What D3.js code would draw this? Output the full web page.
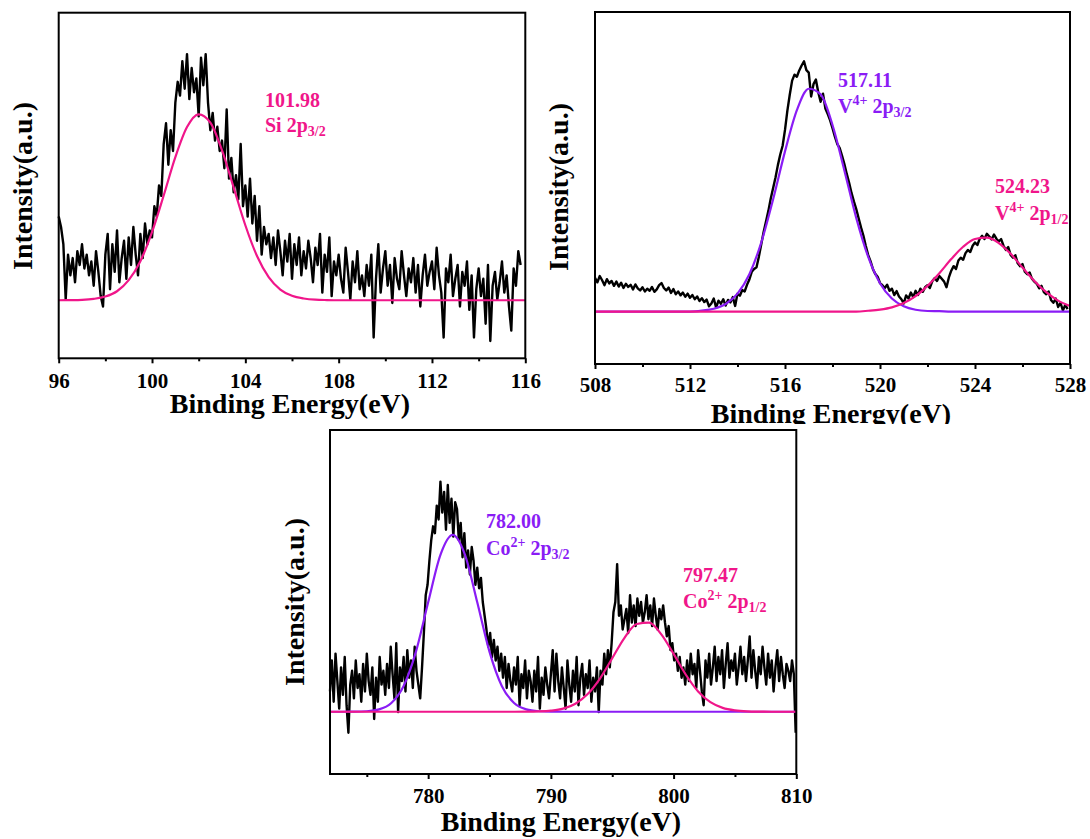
<!DOCTYPE html>
<html>
<head>
<meta charset="utf-8">
<script src="https://cdnjs.cloudflare.com/ajax/libs/d3/7.8.5/d3.min.js"></script>
<style>
  body { margin: 0; background: #fff; }
  svg text { font-family: "Liberation Serif", "Times New Roman", serif; font-weight: bold; }
</style>
</head>
<body>
<svg id="fig" width="1090" height="839"></svg>
<script>
// intensities are arbitrary units (0-100 = plot height)

// Si 2p, raw spectrum, 96.0 eV in 0.1 eV steps
var siStart = 96, siStep = 0.1;
var siCounts = [
  41, 38, 33, 17, 30, 24, 29, 22, 31, 27,
  33, 26, 30, 24, 28, 21, 31, 25, 18, 15,
  30, 36, 20, 33, 25, 37, 22, 29, 34, 23,
  35, 27, 38, 30, 24, 36, 29, 39, 33, 37,
  35, 44, 41, 50, 47, 62, 68, 56, 66, 60,
  74, 80, 76, 86, 78, 88, 75, 84, 77, 81,
  70, 87, 79, 88, 74, 66, 71, 63, 67, 60,
  63, 55, 72, 52, 58, 48, 53, 46, 62, 44,
  50, 41, 52, 39, 47, 34, 44, 30, 38, 33,
  36, 29, 35, 27, 37, 31, 24, 34, 28, 36,
  23, 33, 27, 35, 24, 31, 26, 34, 29, 22,
  32, 27, 36, 19, 30, 25, 35, 18, 28, 24,
  30, 23, 19, 32, 25, 17, 28, 22, 31, 20,
  24, 18, 27, 21, 30, 6, 23, 33, 19, 26,
  31, 21, 27, 16, 29, 23, 20, 31, 24, 18,
  26, 22, 29, 19, 27, 15, 24, 30, 21, 25,
  28, 20, 32, 24, 19, 6, 26, 22, 30, 18,
  23, 27, 15, 25, 21, 28, 14, 24, 6, 20,
  26, 18, 23, 10, 27, 5, 21, 25, 17, 22,
  28, 19, 24, 15, 8, 26, 21, 31, 27
];
// Si 2p3/2 fitted component, 0.5 eV steps
var siFit = [
  16.8, 16.83, 16.92, 17.2, 17.86, 19.4, 22.6, 28.1, 36.5, 47.1,
  58.2, 66.9, 70.6, 68.2, 60.2, 49.4, 38.5, 29.6, 23.5, 19.9,
  18.1, 17.3, 16.95, 16.85, 16.8, 16.8, 16.8, 16.8, 16.8, 16.8,
  16.8, 16.8, 16.8, 16.8, 16.8, 16.8, 16.8, 16.8, 16.8, 16.8, 16.8
];
var siTicks = [96, 100, 104, 108, 112, 116];
var siMinor = [98, 102, 106, 110, 114];

// V 2p, 508.0 eV in 0.1 eV steps
var vStart = 508, vStep = 0.1;
var vCounts = [
  24.5, 23.2, 25.0, 23.8, 22.4, 24.1, 22.9, 23.6, 22.2, 23.4,
  22.0, 23.1, 21.6, 22.8, 21.9, 22.5, 21.2, 22.6, 21.5, 20.9,
  21.8, 20.6, 21.4, 20.8, 21.9, 20.5, 21.2, 22.4, 23.0, 21.6,
  20.9, 21.7, 20.2, 21.3, 19.8, 20.6, 19.5, 20.3, 19.1, 20.0,
  18.8, 19.6, 18.4, 19.2, 17.9, 18.7, 17.6, 18.3, 16.4, 17.2,
  18.6, 16.0, 18.0, 17.1, 18.4, 16.6, 18.2, 17.5, 19.0, 16.5,
  20.0, 19.4, 21.0, 20.6, 22.5, 24.0, 26.2, 27.0, 27.5, 30.5,
  34.0, 37.5, 40.5, 43.5, 47.0, 50.0, 53.0, 56.5, 59.5, 62.0,
  66.5, 72.0, 76.5, 80.5, 82.2, 81.6, 83.4, 84.8, 86.0, 83.5,
  82.8, 76.0, 79.5, 80.8, 77.2, 74.5, 76.8, 72.6, 71.0, 69.2,
  67.0, 64.6, 62.5, 61.4, 59.2, 56.8, 54.0, 51.5, 48.6, 46.2,
  44.0, 41.4, 38.8, 36.5, 33.6, 31.0, 29.2, 27.0, 25.6, 24.8,
  23.0, 22.4, 21.6, 22.5, 20.8, 21.4, 19.6, 20.7, 19.2, 18.4,
  17.2, 19.5, 18.6, 20.3, 19.0, 20.8, 19.6, 21.4, 20.5, 21.8,
  22.4, 21.6, 23.5, 24.4, 23.6, 25.0, 24.2, 23.4, 21.8, 24.6,
  26.5, 27.8, 27.0, 29.4, 30.2, 29.6, 31.5, 32.4, 31.8, 33.6,
  34.5, 33.8, 35.6, 36.4, 35.5, 37.0, 36.2, 35.4, 36.8, 35.6,
  34.8, 35.5, 33.6, 32.4, 33.2, 31.0, 30.2, 30.9, 28.6, 27.8,
  28.4, 26.2, 25.5, 26.0, 24.2, 23.4, 22.8, 21.5, 22.2, 20.4,
  19.8, 20.6, 18.2, 17.4, 18.6, 16.2, 17.4, 15.2, 16.8, 15.6
];
// V4+ components, 0.5 eV steps from 508
var v32Fit = [
  14.9, 14.9, 14.9, 14.9, 14.9, 14.9, 14.9, 14.9, 14.9, 15.16,
  15.7, 17.04, 20.0, 25.5, 34.5, 46.8, 60.4, 72.1, 78.2, 76.6,
  67.9, 55.0, 41.5, 30.5, 22.96, 18.6, 16.4, 15.4, 15.06, 15.0,
  14.9, 14.9, 14.9, 14.9, 14.9, 14.9, 14.9, 14.9, 14.9, 14.9, 14.9
];
var v12Fit = [
  14.9, 14.9, 14.9, 14.9, 14.9, 14.9, 14.9, 14.9, 14.9, 14.9,
  14.9, 14.9, 14.9, 14.9, 14.9, 14.9, 14.9, 14.9, 14.9, 14.9,
  14.9, 14.9, 14.9, 15.13, 15.46, 16.1, 17.35, 19.3, 22.2, 25.8,
  29.8, 33.3, 35.5, 35.9, 34.35, 31.3, 27.4, 23.6, 20.4, 18.0, 16.5
];
var vTicks = [508, 512, 516, 520, 524, 528];
var vMinor = [510, 514, 518, 522, 526];

// Co 2p, 772.0 eV in 0.15 eV steps
var coStart = 772, coStep = 0.15;
var coCounts = [
  24, 33, 21, 35, 27, 19, 31, 23, 34, 20,
  12, 26, 30, 22, 33, 25, 29, 21, 32, 24,
  35, 27, 23, 31, 16, 28, 21, 34, 26, 30,
  23, 32, 25, 37, 29, 22, 38, 18, 31, 27,
  34, 24, 36, 28, 33, 25, 37, 30, 26, 22,
  31, 41, 52, 55, 62, 68, 72, 70, 78, 74,
  85, 76, 82, 71, 84, 73, 80, 69, 79, 77,
  68, 73, 63, 70, 60, 65, 58, 66, 62, 55,
  60, 54, 57, 50, 46, 42, 37, 41, 34, 39,
  33, 37, 30, 35, 28, 34, 25, 32, 27, 24,
  31, 26, 34, 20, 29, 25, 33, 22, 30, 27,
  21, 30, 24, 34, 19, 28, 23, 31, 26, 22,
  29, 36, 24, 35, 27, 22, 31, 25, 19, 33,
  26, 21, 30, 24, 34, 20, 28, 32, 23, 29,
  25, 33, 21, 28, 24, 31, 18, 30, 26, 35,
  29, 36, 31, 38, 47, 50, 61, 46, 49, 42,
  45, 48, 41, 52, 44, 49, 43, 51, 46, 50,
  44, 47, 52, 45, 49, 43, 51, 46, 42, 48,
  45, 49, 44, 40, 43, 36, 38, 33, 35, 30,
  34, 28, 31, 26, 33, 27, 35, 29, 32, 25,
  36, 30, 24, 20, 33, 28, 35, 26, 31, 37,
  27, 34, 29, 36, 25, 32, 38, 28, 33, 30,
  35, 26, 31, 37, 29, 34, 27, 33, 40, 28,
  36, 30, 25, 34, 29, 37, 31, 26, 35, 28,
  33, 24, 31, 36, 27, 34, 29, 25, 32, 30,
  27, 33, 29, 12
];
// Co2+ components, 1 eV steps from 772
var co32Fit = [
  18.1, 18.1, 18.12, 18.24, 18.78, 20.64, 25.6, 35.5, 49.9, 63.7,
  69.5, 63.7, 49.9, 35.5, 25.6, 20.64, 18.78, 18.24, 18.12, 18.1,
  18.1, 18.1, 18.1, 18.1, 18.1, 18.1, 18.1, 18.1, 18.1, 18.1,
  18.1, 18.1, 18.1, 18.1, 18.1, 18.1, 18.1, 18.1, 18.1
];
var co12Fit = [
  18.1, 18.1, 18.1, 18.1, 18.1, 18.1, 18.1, 18.1, 18.1, 18.1,
  18.1, 18.1, 18.1, 18.1, 18.1, 18.1, 18.12, 18.19, 18.41, 19.0,
  20.44, 23.24, 27.75, 33.66, 39.6, 43.6, 43.98, 40.6, 34.9, 28.85,
  24.0, 20.87, 19.22, 18.49, 18.21, 18.13, 18.1, 18.1, 18.1
];
var coTicks = [780, 790, 800, 810];
var coMinor = [775, 785, 795, 805];

var PINK = "#F0168A",
    PURPLE = "#8A1CF5";

var svg = d3.select("#fig");
svg.append("rect").attr("width", 1090).attr("height", 839).attr("fill", "#fff");

svg.append("clipPath").attr("id", "cutTitle")
  .append("rect").attr("x", 0).attr("y", 0).attr("width", 1090).attr("height", 424);

function series(start, step, vals) {
    return vals.map(function (v, i) { return [start + i * step, v]; });
}

function richText(g, x, y, color, parts) {
    var t = g.append("text").attr("x", x).attr("y", y).attr("fill", color)
        .style("font-size", "20px");
    var shift = 0;
    parts.forEach(function (p) {
        var target = p[1] == "sup" ? -8 : (p[1] == "sub" ? 4 : 0);
        t.append("tspan")
            .attr("dy", target - shift)
            .style("font-size", p[1] ? "14px" : "20px")
            .text(p[0]);
        shift = target;
    });
}

function drawPanel(p) {
    var g = svg.append("g");
    var x = d3.scaleLinear().domain(p.domain).range([p.left, p.right]);
    var y = d3.scaleLinear().domain([0, 100]).range([p.bottom, p.top]);
    var line = d3.line()
        .x(function (d) { return x(d[0]); })
        .y(function (d) { return y(d[1]); });
    var smooth = d3.line()
        .x(function (d) { return x(d[0]); })
        .y(function (d) { return y(d[1]); })
        .curve(d3.curveMonotoneX);

    g.append("path")
        .datum(series(p.start, p.step, p.counts))
        .attr("d", line)
        .attr("fill", "none")
        .attr("stroke", "#000")
        .attr("stroke-width", 2.4)
        .attr("stroke-linejoin", "round");

    p.fits.forEach(function (f) {
        g.append("path")
            .datum(series(p.domain[0], f.step, f.vals))
            .attr("d", smooth)
            .attr("fill", "none")
            .attr("stroke", f.color)
            .attr("stroke-width", 2.2);
    });

    g.append("rect")
        .attr("x", p.left).attr("y", p.top)
        .attr("width", p.right - p.left).attr("height", p.bottom - p.top)
        .attr("fill", "none").attr("stroke", "#000").attr("stroke-width", 2);

    var minor = d3.axisBottom(x).tickValues(p.minor).tickSize(3).tickFormat("");
    var major = d3.axisBottom(x).tickValues(p.ticks).tickSize(5)
        .tickPadding(p.pad).tickFormat(d3.format("d"));
    [minor, major].forEach(function (ax) {
        var a = g.append("g").attr("transform", "translate(0," + p.bottom + ")").call(ax);
        a.select(".domain").remove();
        a.selectAll("line").attr("stroke", "#000").attr("stroke-width", 2);
        a.selectAll("text")
            .attr("fill", "#000")
            .style("font-size", "21px")
            .style("font-family", "'Liberation Serif', 'Times New Roman', serif")
            .style("font-weight", "bold");
    });

    var xt = g.append("text")
        .attr("x", p.xTitle[0]).attr("y", p.xTitle[1])
        .attr("text-anchor", "middle")
        .style("font-size", "28px")
        .text("Binding Energy(eV)");
    if (p.clipTitle) xt.attr("clip-path", "url(#cutTitle)");

    g.append("text")
        .attr("transform", "translate(" + p.yTitle[0] + "," + p.yTitle[1] + ") rotate(-90)")
        .attr("text-anchor", "middle")
        .style("font-size", "28px")
        .text("Intensity(a.u.)");

    p.labels.forEach(function (l) {
        richText(g, l.x, l.y, l.color, l.parts);
    });
}

drawPanel({
    domain: [96, 116], left: 58.7, right: 525.3, top: 12.7, bottom: 358.3,
    start: siStart, step: siStep, counts: siCounts,
    fits: [{ step: 0.5, vals: siFit, color: PINK }],
    ticks: siTicks, minor: siMinor, pad: 10,
    xTitle: [290, 412.5], yTitle: [32, 186],
    labels: [
        { x: 265, y: 106.5, color: PINK, parts: [["101.98"]] },
        { x: 265, y: 131.5, color: PINK, parts: [["Si 2p"], ["3/2", "sub"]] }
    ]
});

drawPanel({
    domain: [508, 528], left: 595, right: 1070, top: 12, bottom: 364,
    start: vStart, step: vStep, counts: vCounts,
    fits: [{ step: 0.5, vals: v32Fit, color: PURPLE },
           { step: 0.5, vals: v12Fit, color: PINK }],
    ticks: vTicks, minor: vMinor, pad: 8,
    xTitle: [831, 422.5], yTitle: [568, 187], clipTitle: true,
    labels: [
        { x: 838, y: 87, color: PURPLE, parts: [["517.11"]] },
        { x: 838, y: 113, color: PURPLE, parts: [["V"], ["4+", "sup"], [" 2p"], ["3/2", "sub"]] },
        { x: 995, y: 193, color: PINK, parts: [["524.23"]] },
        { x: 995, y: 220, color: PINK, parts: [["V"], ["4+", "sup"], [" 2p"], ["1/2", "sub"]] }
    ]
});

drawPanel({
    domain: [772, 810], left: 330, right: 796.3, top: 430, bottom: 774,
    start: coStart, step: coStep, counts: coCounts,
    fits: [{ step: 1, vals: co32Fit, color: PURPLE },
           { step: 1, vals: co12Fit, color: PINK }],
    ticks: coTicks, minor: coMinor, pad: 9.5,
    xTitle: [561, 830.5], yTitle: [304, 602],
    labels: [
        { x: 486, y: 528, color: PURPLE, parts: [["782.00"]] },
        { x: 486, y: 555, color: PURPLE, parts: [["Co"], ["2+", "sup"], [" 2p"], ["3/2", "sub"]] },
        { x: 683, y: 582, color: PINK, parts: [["797.47"]] },
        { x: 683, y: 608, color: PINK, parts: [["Co"], ["2+", "sup"], [" 2p"], ["1/2", "sub"]] }
    ]
});
</script>
</body>
</html>
